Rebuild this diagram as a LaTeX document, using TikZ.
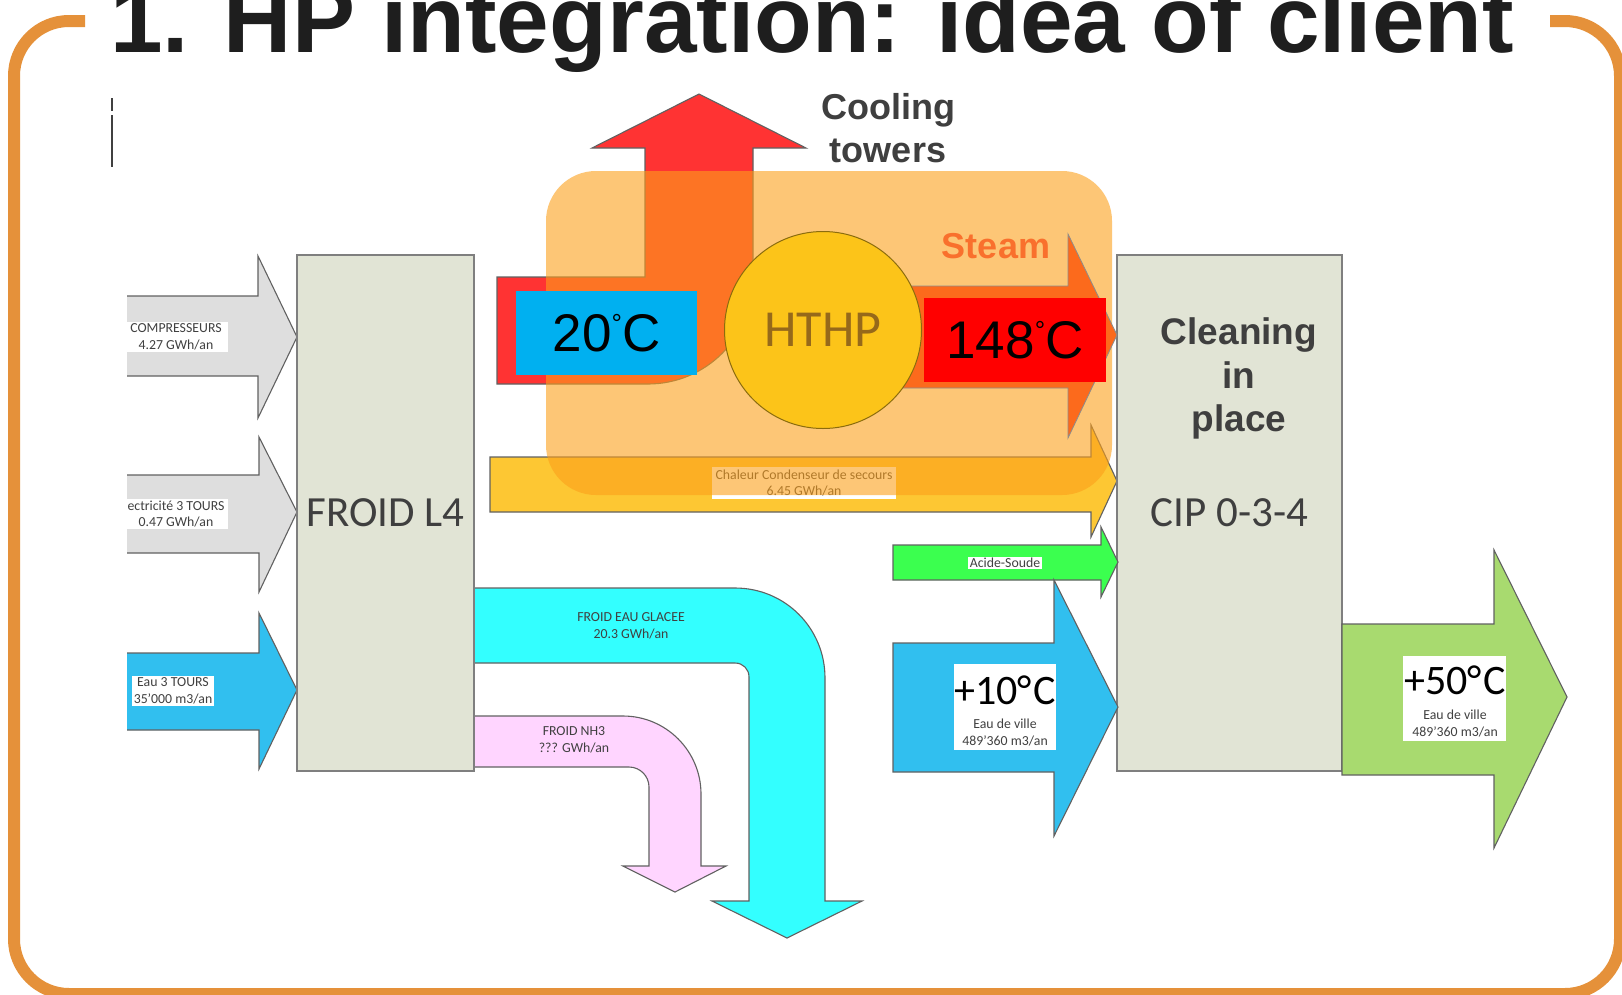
\documentclass[tikz,border=0pt]{standalone}
\usepackage{fontspec}
\setmainfont{Carlito}
\newfontfamily\arialf{Liberation Sans}
\newcommand\fsz[1]{\fontsize{#1}{#1}\selectfont}
\newcommand\fszb[2]{\fontsize{#1}{#2}\selectfont}
\definecolor{bordc}{HTML}{E5913A}
\definecolor{titlec}{HTML}{1E1E1E}
\definecolor{boxfill}{HTML}{E1E4D5}
\definecolor{boxline}{HTML}{7F7F7F}
\definecolor{lgray}{HTML}{DEDEDE}
\definecolor{skyb}{HTML}{31BFEF}
\definecolor{cyanc}{HTML}{33FFFF}
\definecolor{pinkc}{HTML}{FFD5FF}
\definecolor{greenc}{HTML}{3BFF4F}
\definecolor{lgreen}{HTML}{A8DA6F}
\definecolor{yellc}{HTML}{FDC733}
\definecolor{redc}{HTML}{FF3333}
\definecolor{overc}{HTML}{FCA01B}
\definecolor{hthpc}{HTML}{FCC419}
\definecolor{hthpt}{HTML}{96691A}
\definecolor{steamc}{HTML}{FC6A1C}
\definecolor{steamt}{HTML}{F9702D}
\definecolor{blueb}{HTML}{00B0F0}
\definecolor{txtc}{HTML}{404040}
\definecolor{darkt}{HTML}{3F3F3F}
\begin{document}
\begin{tikzpicture}[x=1pt,y=-1pt,
  arrowline/.style={draw=black!62, line width=1.1pt, line join=miter},
  lbl/.style={font=\fszb{13.8}{16.5}, text=txtc, align=center, inner sep=0pt},
  whitelbl/.style={lbl, fill=white, inner xsep=2pt, inner ysep=1.5pt},
  bigbox/.style={draw=boxline, fill=boxfill, line width=1.4pt, inner sep=0pt},
  boldlbl/.style={font=\arialf\bfseries\fsz{36}, text=darkt, inner sep=0pt, anchor=base},
  tempbox/.style={inner sep=0pt, font=\arialf\fsz{53}, text=black},
  calbig/.style={inner sep=0pt, font=\fsz{42}, text=black},
  plainbox/.style={fill=white, inner sep=0pt}
]
\useasboundingbox (0,0) rectangle (1622,994);
\fill[white] (0,0) rectangle (1622,994);

% frame
\draw[bordc, line width=12pt, rounded corners=55pt] (85,21) -- (14,21) -- (14,994) -- (1620,994) -- (1620,21) -- (1550,21);
\node[anchor=base west, inner sep=0pt, font=\arialf\bfseries\fsz{94.5}, text=titlec] (title) at (110,52) {1. HP integration: idea of client};
\draw[txtc, line width=1.4pt] (112,98) -- (112,111);
\draw[txtc, line width=1.4pt] (112,115) -- (112,167);

% left input arrows
\begin{scope}
\clip (127,0) rectangle (320,994);
\filldraw[arrowline, fill=lgray] (118,296) -- (258,296) -- (258,256) -- (297,337) -- (258,418) -- (258,376) -- (118,376) -- cycle;
\filldraw[arrowline, fill=lgray] (118,475) -- (259,475) -- (259,437) -- (297,512) -- (259,592) -- (259,553) -- (118,553) -- cycle;
\filldraw[arrowline, fill=skyb] (118,653) -- (259,653) -- (259,613) -- (297,690) -- (259,769) -- (259,730) -- (118,730) -- cycle;
\node[whitelbl, minimum width=104pt] (lcomp) at (176,337) {COMPRESSEURS\\4.27 GWh/an};
\node[whitelbl, minimum width=104pt] (lelec) at (176,514) {ectricité 3 TOURS\\0.47 GWh/an};
\end{scope}
\node[whitelbl] (leau) at (173,691) {Eau 3 TOURS\\35'000 m3/an};

% bent outputs from FROID L4
\filldraw[arrowline, fill=cyanc] (470,588) -- (735,588) .. controls (785,588) and (825,628) .. (825,678) -- (825,901) -- (862,901) -- (787,938) -- (712,901) -- (749,901) -- (749,677) .. controls (749,669) and (743,663) .. (735,663) -- (470,663) -- cycle;
\node[lbl] (lglacee) at (631,626) {FROID EAU GLACEE\\20.3 GWh/an};
\filldraw[arrowline, fill=pinkc] (470,716) -- (623,716) .. controls (666,716) and (701,751) .. (701,794) -- (701,866) -- (726,866) -- (675,892) -- (623,866) -- (649,866) -- (649,787) .. controls (649,776) and (640,767) .. (629,767) -- (470,767) -- cycle;
\node[lbl] (lnh3) at (574,740) {FROID NH3\\??? GWh/an};

% backup condenser heat
\filldraw[arrowline, fill=yellc] (490,457) -- (1091,457) -- (1091,425) -- (1117,481) -- (1091,537) -- (1091,512) -- (490,512) -- cycle;
\node[whitelbl, minimum width=184pt, minimum height=32pt] (lchal) at (804,483) {Chaleur Condenseur de secours\\6.45 GWh/an};

% cooling tower arrow
\filldraw[arrowline, fill=redc] (497,277) -- (645,277) -- (645,148) -- (592,148) -- (699,94) -- (806,148) -- (753,148) -- (753,279) .. controls (753,337) and (706,384) .. (648,384) -- (497,384) -- cycle;

% boxes
\node[bigbox, minimum width=177pt, minimum height=516pt, font=\fsz{43}, text=darkt] (froid) at (385.5,513) {FROID L4};
\node[bigbox, minimum width=225pt, minimum height=516pt, font=\fsz{43}, text=darkt] (cip) at (1229.5,513) {CIP 0-3-4};

% HP overlay
\fill[overc, fill opacity=0.6, rounded corners=50pt] (546,171) rectangle (1112,495);

% steam + HTHP
\filldraw[draw=black!45, line width=0.8pt, fill=steamc] (900,286) -- (1068,286) -- (1068,234) -- (1117,335) -- (1068,438) -- (1068,388) -- (900,388) -- cycle;
\node[circle, draw=black!45!hthpc, line width=1pt, fill=hthpc, minimum size=197pt, inner sep=0pt, font=\fsz{52}, text=hthpt] (hthp) at (823,330) {HTHP};
\node[tempbox, fill=blueb, minimum width=181pt, minimum height=84pt] (t20) at (606.5,333) {20{\fsz{26}\raisebox{19.5pt}{°}}C};
\node[tempbox, fill=red, minimum width=182pt, minimum height=84pt] (t148) at (1015,340) {148{\fsz{26}\raisebox{19.5pt}{°}}C};
\node[boldlbl, font=\arialf\bfseries\fsz{36}, text=steamt] (steam) at (996,258) {Steam};
\node[boldlbl] (cool1) at (888,119) {Cooling};
\node[boldlbl] (cool2) at (888,162) {towers};

% CIP inputs
\filldraw[arrowline, fill=greenc] (893,545) -- (1101,545) -- (1101,527) -- (1118,562) -- (1101,597) -- (1101,580) -- (893,580) -- cycle;
\node[whitelbl, inner ysep=1pt] (lacide) at (1005,563) {Acide-Soude};
\filldraw[arrowline, fill=skyb] (893,643) -- (1054,643) -- (1054,580) -- (1118,707) -- (1054,836) -- (1054,772) -- (893,772) -- cycle;
\node[plainbox, minimum width=102pt, minimum height=86pt] (b10) at (1005,707) {};
\node[calbig] (t10) at (1005,690) {+10°\kern1.5pt C};
\node[lbl] (v10) at (1005,732.5) {Eau de ville\\489'360 m3/an};

% CIP output
\filldraw[arrowline, fill=lgreen] (1342,624) -- (1494,624) -- (1494,550) -- (1567,697) -- (1494,848) -- (1494,775) -- (1342,775) -- cycle;
\node[plainbox, minimum width=103pt, minimum height=85pt] (b50) at (1454.5,698.5) {};
\node[calbig] (t50) at (1455,680) {+50°\kern1.5pt C};
\node[lbl] (v50) at (1455,723.5) {Eau de ville\\489'360 m3/an};

% CIP title
\node[boldlbl, font=\arialf\bfseries\fsz{37}] (cl1) at (1239,344) {Cleaning};
\node[boldlbl, font=\arialf\bfseries\fsz{37}] (cl2) at (1239,388) {in};
\node[boldlbl, font=\arialf\bfseries\fsz{37}] (cl3) at (1239,431) {place};
\end{tikzpicture}
\end{document}
